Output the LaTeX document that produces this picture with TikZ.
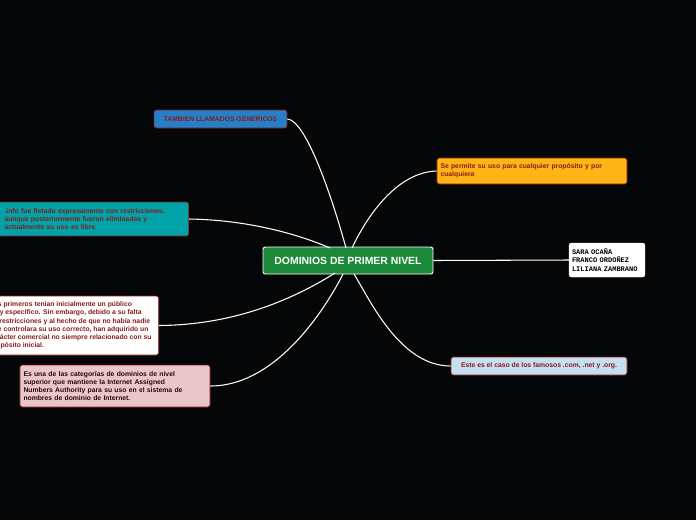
\documentclass[tikz,border=0pt]{standalone}
\usepackage{fontspec}
\setmainfont{Liberation Sans}
\setmonofont{Liberation Mono}
\definecolor{bg}{HTML}{050607}
\definecolor{txtred}{HTML}{8B1A1A}
\definecolor{rootgreen}{HTML}{1B8A3A}
\definecolor{tblue}{HTML}{2480C8}
\definecolor{tteal}{HTML}{00A3A8}
\definecolor{torange}{HTML}{FFB515}
\definecolor{tpink}{HTML}{E8C6CA}
\definecolor{tlblue}{HTML}{C6DFF0}
\begin{document}
\begin{tikzpicture}[x=0.03cm,y=-0.03cm,
  topic/.style={draw=txtred, line width=0.6pt, rounded corners=2pt, align=left,
    font=\fontsize{5.8}{7}\selectfont\bfseries, text=txtred, inner sep=3pt},
  link/.style={white, line width=0.9pt}]
\clip (0,0) rectangle (696,520);
\fill[bg] (0,0) rectangle (696,520);
% root
\node[draw=white, line width=0.8pt, fill=rootgreen, rounded corners=2pt, minimum width=170*0.03cm,
  minimum height=27*0.03cm, text=white, font=\fontsize{8.9}{9}\selectfont\bfseries] (root) at (348,260.5) {DOMINIOS DE PRIMER NIVEL};
% topics
\node[topic, fill=tblue, minimum width=133*0.03cm, minimum height=18*0.03cm, align=center] (gen) at (220.5,119) {TAMBIEN LLAMADOS GENERICOS};
\node[topic, fill=tteal, minimum height=34*0.03cm, text width=176*0.03cm, inner xsep=7pt, anchor=west] (info) at (-4,219) {.info fue fletado expresamente con restricciones,\\aunque posteriormente fueron eliminadas y\\actualmente su uso es libre.};
\node[topic, fill=white, minimum height=59*0.03cm, anchor=east, inner xsep=6pt] (prim) at (159,325.5) {Los primeros tenían inicialmente un público\\muy específico. Sin embargo, debido a su falta\\de restricciones y al hecho de que no había nadie\\que controlara su uso correcto, han adquirido un\\carácter comercial no siempre relacionado con su\\propósito inicial.};
\node[topic, fill=tpink, text width=183*0.03cm, minimum height=42*0.03cm, text=black!70!txtred] (cat) at (115,386) {Es una de las categorías de dominios de nivel\\superior que mantiene la Internet Assigned\\Numbers Authority para su uso en el sistema de\\nombres de dominio de Internet.};
\node[topic, fill=torange, text width=183*0.03cm, minimum height=26*0.03cm] (uso) at (532,171) {Se permite su uso para cualquier propósito y por\\cualquiera};
\node[draw=white, fill=white, rounded corners=2pt, text width=70*0.03cm, minimum height=34*0.03cm, align=left,
  font=\ttfamily\bfseries\fontsize{6}{7.4}\selectfont, inner sep=2.5pt] (auth) at (607,260) {SARA OCAÑA\\FRANCO ORDOÑEZ\\LILIANA ZAMBRANO};
\node[topic, fill=tlblue, minimum width=176*0.03cm, minimum height=18*0.03cm] (ej) at (539,366) {Este es el caso de los famosos .com, .net y .org.};
% connectors
\draw[link] (gen.east) .. controls (305,120) and (330,190) .. (346,248);
\draw[link] (info.east) .. controls (250,220) and (300,235) .. (330,248);
\draw[link] (prim.east) .. controls (240,325) and (300,295) .. (335,273);
\draw[link] (cat.east) .. controls (280,386) and (330,300) .. (343,274);
\draw[link] (uso.west) .. controls (400,172) and (370,210) .. (352,248);
\draw[link] (root.east) -- (auth.west);
\draw[link] (ej.west) .. controls (400,366) and (370,300) .. (354,274);
\end{tikzpicture}
\end{document}
